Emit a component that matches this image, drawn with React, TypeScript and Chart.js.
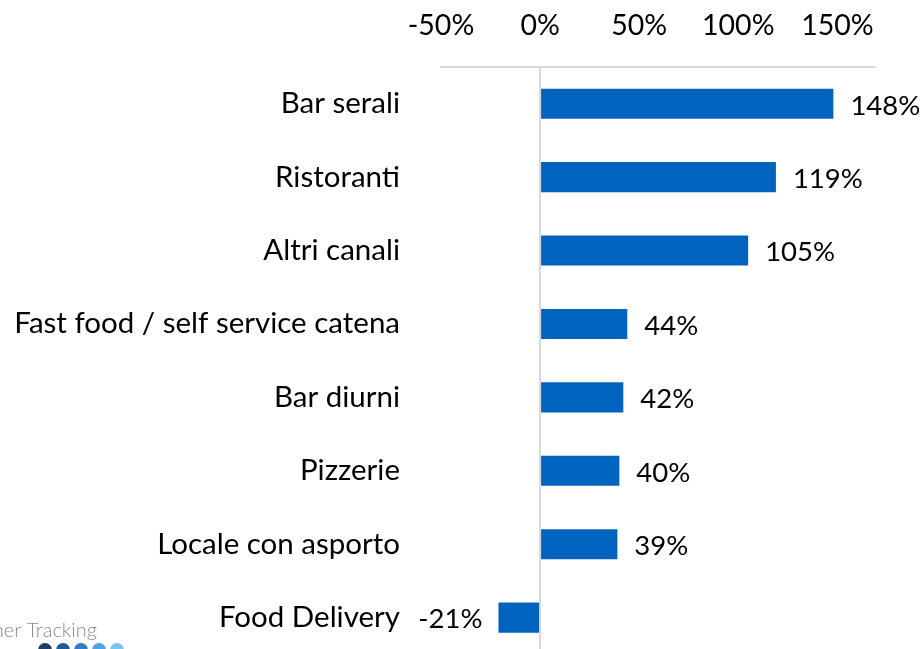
import React, { useEffect, useRef } from "react";
import { Chart, registerables } from "chart.js";

Chart.register(...registerables);

const categories = [
  "Bar serali",
  "Ristoranti",
  "Altri canali",
  "Fast food / self service catena",
  "Bar diurni",
  "Pizzerie",
  "Locale con asporto",
  "Food Delivery",
];
const values = [148, 119, 105, 44, 42, 40, 39, -21];
const tickValues = [-50, 0, 50, 100, 150];

const FONT = "Lato, 'Open Sans', sans-serif";

const labelPlugin = {
  id: "barLabels",
  afterDatasetsDraw(chart: any) {
    const { ctx } = chart;
    const meta = chart.getDatasetMeta(0);
    ctx.save();
    ctx.font = `27.5px ${FONT}`;
    ctx.fillStyle = "#000";
    ctx.textBaseline = "middle";
    meta.data.forEach((bar: any, i: number) => {
      const v = values[i];
      const txt = `${v}%`;
      if (v >= 0) {
        ctx.textAlign = "left";
        ctx.fillText(txt, bar.x + 17, bar.y + 2);
      } else {
        ctx.textAlign = "right";
        ctx.fillText(txt, bar.x - 16, bar.y + 2);
      }
    });
    ctx.restore();
  },
};

const logoPlugin = {
  id: "logo",
  afterDraw(chart: any) {
    const { ctx } = chart;
    ctx.save();
    ctx.font = `300 20px ${FONT}`;
    ctx.fillStyle = "#8a8a8a";
    ctx.textAlign = "right";
    ctx.textBaseline = "alphabetic";
    ctx.fillText("Consumer Tracking", 97, 637);
    const dots = ["#1f3f66", "#1d5a99", "#2e7fc8", "#4ba2e6", "#7cc4f2"];
    dots.forEach((c, i) => {
      ctx.beginPath();
      ctx.fillStyle = c;
      ctx.arc(45 + i * 18, 650, 7, 0, Math.PI * 2);
      ctx.fill();
    });
    ctx.restore();
  },
};

export default function App() {
  const ref = useRef<HTMLCanvasElement>(null);
  useEffect(() => {
    const chart = new Chart(ref.current!, {
      type: "bar",
      data: {
        labels: categories,
        datasets: [
          {
            data: values,
            backgroundColor: "#0064BF",
            borderWidth: 0,
            categoryPercentage: 1,
            barPercentage: 0.41,
          },
        ],
      },
      options: {
        indexAxis: "y",
        responsive: false,
        maintainAspectRatio: false,
        animation: false,
        layout: { padding: { right: 49, top: 0, bottom: 0, left: 0 } },
        plugins: { legend: { display: false }, tooltip: { enabled: false } },
        scales: {
          x: {
            position: "top",
            min: -50,
            max: 169,
            afterBuildTicks(axis: any) {
              axis.ticks = tickValues.map((v) => ({ value: v }));
            },
            afterFit(axis: any) {
              axis.height = 67;
            },
            ticks: {
              callback: (v: any) => `${v}%`,
              font: { family: FONT, size: 28.5 },
              color: "#000",
              padding: 24,
              maxRotation: 0,
            },
            grid: {
              drawTicks: false,
              lineWidth: 2,
              color: (c: any) => (c.tick && c.tick.value === 0 ? "#d9d9d9" : "rgba(0,0,0,0)"),
            },
            border: { display: true, color: "#d9d9d9", width: 2 },
          },
          y: {
            afterFit(axis: any) {
              axis.width = 441;
            },
            ticks: {
              font: { family: FONT, size: 29.5 },
              color: "#000",
              padding: 41,
            },
            grid: { display: false, drawTicks: false },
            border: { display: false },
          },
        },
      },
      plugins: [labelPlugin, logoPlugin],
    });
    return () => chart.destroy();
  }, []);
  return (
    <div style={{ position: "absolute", left: 0, top: 0, width: 924, height: 649, overflow: "hidden", background: "#fff" }}>
      <canvas ref={ref} width={924} height={713} style={{ display: "block", width: 924, height: 713 }} />
    </div>
  );
}
